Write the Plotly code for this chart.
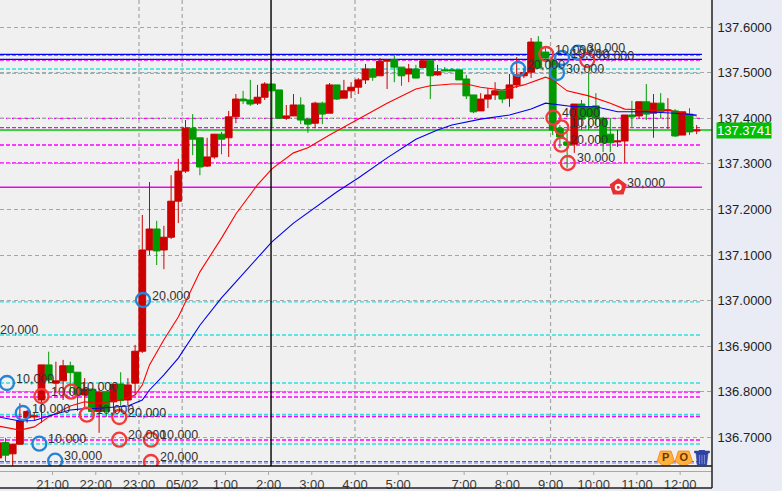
import plotly.graph_objects as go

W, H = 782, 491
PLOT_R, PLOT_B = 712, 466

candle_index = list(range(-20, 78))
opens = [136.655,136.689,136.664,136.685,136.743,136.745,136.782,136.859,136.819,136.824,
 136.857,136.843,136.793,136.806,136.757,136.800,136.778,136.817,136.782,136.819,
 136.889,137.111,137.157,137.111,137.139,137.218,137.284,137.378,137.357,137.295,
 137.315,137.365,137.357,137.403,137.442,137.440,137.433,137.446,137.475,137.462,
 137.400,137.405,137.429,137.398,137.389,137.433,137.411,137.473,137.444,137.460,
 137.468,137.484,137.508,137.493,137.525,137.528,137.512,137.497,137.508,137.511,
 137.526,137.495,137.506,137.506,137.506,137.486,137.451,137.416,137.442,137.451,
 137.460,137.444,137.473,137.493,137.501,137.567,137.545,137.528,137.378,137.348,
 137.343,137.431,137.425,137.427,137.400,137.365,137.348,137.350,137.407,137.405,
 137.436,137.411,137.433,137.416,137.416,137.363,137.409,137.372]
highs = [136.688,136.699,136.685,136.775,136.760,136.754,136.859,136.888,136.866,136.870,
 136.866,136.843,136.830,136.806,136.808,136.800,136.816,136.843,136.830,136.903,
 137.188,137.260,137.175,137.164,137.275,137.311,137.396,137.409,137.357,137.357,
 137.365,137.370,137.416,137.453,137.460,137.484,137.473,137.479,137.475,137.462,
 137.429,137.453,137.446,137.398,137.436,137.436,137.477,137.473,137.484,137.479,
 137.488,137.519,137.510,137.532,137.528,137.539,137.512,137.519,137.517,137.526,
 137.528,137.517,137.512,137.510,137.506,137.495,137.451,137.455,137.466,137.479,
 137.460,137.497,137.534,137.510,137.576,137.580,137.554,137.528,137.385,137.368,
 137.431,137.440,137.499,137.455,137.403,137.400,137.374,137.407,137.438,137.436,
 137.475,137.453,137.455,137.444,137.420,137.414,137.422,137.385]
lows = [136.633,136.647,136.637,136.685,136.732,136.738,136.732,136.819,136.800,136.782,
 136.793,136.758,136.765,136.745,136.710,136.745,136.754,136.768,136.771,136.793,
 136.885,137.100,137.078,137.069,137.135,137.170,137.280,137.319,137.275,137.293,
 137.311,137.321,137.315,137.389,137.431,137.427,137.429,137.440,137.381,137.400,
 137.396,137.405,137.387,137.368,137.378,137.387,137.411,137.440,137.444,137.444,
 137.453,137.475,137.482,137.493,137.464,137.479,137.471,137.479,137.488,137.511,
 137.442,137.493,137.504,137.504,137.484,137.442,137.411,137.416,137.422,137.440,
 137.433,137.425,137.466,137.488,137.488,137.510,137.523,137.363,137.335,137.291,
 137.324,137.374,137.374,137.385,137.326,137.326,137.337,137.302,137.381,137.398,
 137.396,137.357,137.400,137.376,137.359,137.363,137.363,137.365]
closes = [136.688,136.661,136.685,136.736,136.757,136.747,136.859,136.826,136.824,136.857,
 136.842,136.793,136.806,136.757,136.799,136.757,136.816,136.781,136.815,136.889,
 137.111,137.157,137.109,137.139,137.218,137.284,137.378,137.354,137.293,137.315,
 137.365,137.354,137.403,137.442,137.438,137.431,137.446,137.475,137.460,137.400,
 137.405,137.429,137.396,137.387,137.433,137.409,137.473,137.442,137.460,137.468,
 137.484,137.508,137.490,137.525,137.527,137.512,137.493,137.508,137.488,137.526,
 137.493,137.502,137.504,137.504,137.484,137.449,137.414,137.442,137.451,137.460,
 137.442,137.473,137.495,137.500,137.567,137.510,137.532,137.374,137.359,137.341,
 137.431,137.398,137.403,137.400,137.346,137.346,137.350,137.407,137.403,137.436,
 137.409,137.433,137.414,137.418,137.361,137.414,137.370,137.374]

red_ma_index = [-20,-17,-15,-13,-10,-8,-6,-3,-1,0,1,3,5,8,11,13,16,18,21,23,26,30,34,38,40,43,45,47,50,53,56,57,59,62,65,67,70,73,75,77]
red_ma = [136.725,136.716,136.723,136.745,136.769,136.778,136.775,136.782,136.793,136.815,
 136.859,136.914,136.964,137.063,137.137,137.190,137.254,137.289,137.324,137.335,
 137.363,137.398,137.433,137.464,137.471,137.475,137.475,137.468,137.462,137.473,
 137.490,137.484,137.460,137.449,137.433,137.420,137.418,137.418,137.411,137.405]
blue_ma_index = [-20,-17,-15,-13,-10,-8,-6,-2,0,1,3,5,8,11,13,15,18,21,24,27,30,34,38,41,43,47,51,54,56,58,60,63,66,70,74,77]
blue_ma = [136.745,136.736,136.737,136.747,136.760,136.763,136.764,136.769,136.782,136.804,
 136.837,136.874,136.946,137.006,137.041,137.076,137.129,137.170,137.203,137.238,
 137.269,137.313,137.354,137.374,137.385,137.398,137.407,137.420,137.433,137.429,
 137.425,137.425,137.414,137.414,137.411,137.407]

blue_order_x = [-18.8,-16.6,-14.3,-12.1,0.1,52.2,57.6,58.3,60.5]
blue_order_y = [136.8193,136.7535,136.6862,136.6489,137.0013,137.5079,137.4991,137.532,137.5436]
blue_order_text = ["10,000","10,000","10,000","30,000","20,000","20,000","30,000","10,000","30,000"]
red_order_x = [-14,-9.9,-7.7,-3.2,-3.2,1.2,1.2,56.1,61.8,57.1,58.2,58.2,59.1]
red_order_y = [136.7908,136.8002,136.7498,136.7447,136.695,136.695,136.6461,137.5408,137.5276,137.4011,137.38,137.3419,137.3018]
red_order_text = ["10,000","10,000","10,000","20,000","20,000","10,000","20,000","10,000","10,000","40,000","10,000","20,000","30,000"]

blue_solid = [137.5401,137.5292]
magenta_solid = [137.2485]
magenta_dash = [137.5386,137.5276,137.3998,137.3795,137.3412,137.3018,136.7996,136.7886,136.7458,136.6943,136.6467]
cyan_dash = [137.5079,137.4985,136.997,136.9246,136.8193,136.7502,136.6855,136.6438]
last_price = 137.3741

price_ticks = [136.7,136.8,136.9,137.0,137.1,137.2,137.3,137.4,137.5,137.6]
time_ticks = [-12.46,-6.46,-0.46,5.54,11.54,17.54,23.54,29.54,35.54,44.7,50.7,56.7,62.7,68.7,74.7]
time_labels = ["21:00","22:00","23:00","05/02","1:00","2:00","3:00","4:00","5:00","7:00","8:00","9:00","10:00","11:00","12:00"]
grid_times = [-0.46,5.54,29.54,56.7]
crosshair = 17.88

X0, DX = 142.3, 7.2
xmin, xmax = (0 - X0) / DX, (PLOT_R - X0) / DX
line_end = (702 - X0) / DX
TXT = dict(family="Liberation Sans, Arial, sans-serif", size=12.5, color="#333333")

def px(x):
    return x / W
def py(y):
    return 1 - y / PLOT_B
RIGHT = px(PLOT_R)

fig = go.Figure()
shapes = []
# bottom strip
shapes.append(dict(type="rect", xref="paper", yref="paper", x0=0, x1=RIGHT, y0=py(488), y1=py(466),
                   fillcolor="#f0f0f0", line=dict(width=0), layer="below"))
for t in grid_times:
    shapes.append(dict(type="line", xref="x", yref="paper", x0=t, x1=t, y0=0, y1=1,
                       line=dict(color="#a6a6a6", width=1.2, dash="4px,3px"), layer="below"))
def hline(v, color, width, dash=None):
    shapes.append(dict(type="line", xref="x", yref="y", x0=xmin, x1=line_end, y0=v, y1=v,
                       line=dict(color=color, width=width, dash=dash), layer="below"))
for v in cyan_dash:
    hline(v, "#2fe0e0", 1.3, "4px,2px")
for v in magenta_dash:
    hline(v, "#ff00ff", 1.3, "4px,2px")
for v in magenta_solid:
    hline(v, "#f000f0", 1.6)
for v in blue_solid:
    hline(v, "#0000ff", 1.3)
shapes.append(dict(type="line", xref="x", yref="y", x0=xmin, x1=xmax, y0=last_price, y1=last_price,
                   line=dict(color="#00c800", width=1.5), layer="below"))
# axis furniture
shapes.append(dict(type="line", xref="paper", yref="paper", x0=0, x1=RIGHT, y0=py(471.5), y1=py(471.5),
                   line=dict(color="#a8a8a8", width=1)))
for t in time_ticks:
    shapes.append(dict(type="line", xref="x", yref="paper", x0=t, x1=t, y0=py(471.5), y1=py(475),
                       line=dict(color="#a8a8a8", width=1)))
shapes.append(dict(type="line", xref="paper", yref="paper", x0=0, x1=RIGHT, y0=py(466), y1=py(466),
                   line=dict(color="#111111", width=1.5)))
shapes.append(dict(type="line", xref="paper", yref="paper", x0=0, x1=RIGHT, y0=py(488), y1=py(488),
                   line=dict(color="#222222", width=1.5)))
shapes.append(dict(type="line", xref="paper", yref="paper", x0=RIGHT, x1=RIGHT, y0=py(0), y1=py(488),
                   line=dict(color="#222222", width=1.5)))
shapes.append(dict(type="line", xref="x", yref="paper", x0=crosshair, x1=crosshair, y0=0, y1=1,
                   line=dict(color="#000000", width=1.4)))
# trash icon
def path(points):
    return "M" + " L".join(f"{px(a)},{py(b)}" for a, b in points) + " Z"
shapes.append(dict(type="path", xref="paper", yref="paper",
                   path=path([(696, 453), (708, 453), (706.5, 466), (697.5, 466)]),
                   fillcolor="#3347a8", line=dict(color="#26358c", width=0.5)))
shapes.append(dict(type="path", xref="paper", yref="paper",
                   path=path([(694.5, 451), (709.5, 451), (709.5, 453), (694.5, 453)]),
                   fillcolor="#3347a8", line=dict(color="#26358c", width=0.5)))
shapes.append(dict(type="path", xref="paper", yref="paper",
                   path=path([(699, 450), (705, 450), (705, 451), (699, 451)]),
                   fillcolor="#3347a8", line=dict(width=0)))
for sx in (699.5, 702, 704.5):
    shapes.append(dict(type="line", xref="paper", yref="paper", x0=px(sx), x1=px(sx), y0=py(455), y1=py(464),
                       line=dict(color="#8a98dc", width=0.8)))

fig.add_trace(go.Candlestick(
    x=candle_index, open=opens, high=highs, low=lows, close=closes,
    whiskerwidth=0,
    increasing=dict(line=dict(color="#cc0000", width=1), fillcolor="#cc0000"),
    decreasing=dict(line=dict(color="#009900", width=1), fillcolor="#009900"),
    hoverinfo="skip", showlegend=False))
fig.add_trace(go.Scatter(x=red_ma_index, y=red_ma, mode="lines",
                         line=dict(color="#ff0000", width=1.1), showlegend=False, hoverinfo="skip"))
fig.add_trace(go.Scatter(x=blue_ma_index, y=blue_ma, mode="lines",
                         line=dict(color="#0000ee", width=1.1), showlegend=False, hoverinfo="skip"))
fig.add_trace(go.Scatter(x=blue_order_x, y=blue_order_y, mode="markers",
                         marker=dict(symbol="circle-open", size=14, color="#2384d8", line=dict(width=2.3, color="#2384d8")),
                         showlegend=False, hoverinfo="skip"))
fig.add_trace(go.Scatter(x=red_order_x, y=red_order_y, mode="markers",
                         marker=dict(symbol="circle-open", size=14, color="#f23a3a", line=dict(width=2.3, color="#f23a3a")),
                         showlegend=False, hoverinfo="skip"))

house_x, house_y = [66.1], [137.2485]
fig.add_trace(go.Scatter(x=house_x, y=house_y, mode="markers",
                         marker=dict(symbol="pentagon", size=18, color="#e83030"),
                         showlegend=False, hoverinfo="skip"))
fig.add_trace(go.Scatter(x=house_x, y=house_y, mode="markers",
                         marker=dict(symbol="circle-open", size=5, color="#ffffff", line=dict(width=2, color="#ffffff")),
                         showlegend=False, hoverinfo="skip"))
button_x, button_y, button_text = [72.7, 75.2], [136.654, 136.654], ["P", "O"]
fig.add_trace(go.Scatter(x=button_x, y=button_y, mode="markers+text", text=button_text,
                         textposition="middle center",
                         textfont=dict(family="Liberation Sans", size=11, color="#6b3500", weight="bold"),
                         marker=dict(symbol="pentagon", angle=180, size=18, color="#ffb13d", line=dict(width=1, color="#ff8a20")),
                         showlegend=False, hoverinfo="skip"))

ann = []
def label(x, y, text):
    ann.append(dict(x=x, y=y, text=text, xref="x", yref="y", xanchor="left", yanchor="middle",
                    xshift=7, yshift=4.5, showarrow=False, font=TXT))
for x, y, t in zip(blue_order_x, blue_order_y, blue_order_text):
    label(x, y, t)
for x, y, t in zip(red_order_x, red_order_y, red_order_text):
    label(x, y, t)
label(house_x[0], house_y[0], "30,000")
ann.append(dict(x=xmin, y=136.940, text="20,000", xref="x", yref="y", xanchor="left", yanchor="middle",
                xshift=-2, yshift=-2, showarrow=False, font=TXT))
ann.append(dict(x=716 / W, y=last_price, xref="paper", yref="y", xanchor="left", yanchor="middle",
                text=f"{last_price:.4f}", showarrow=False, bgcolor="#00c000", borderpad=0,
                font=dict(family="Liberation Sans, Arial, sans-serif", size=13, color="#ffffff")))

fig.update_layout(
    width=W, height=H, margin=dict(l=0, r=0, t=0, b=H - PLOT_B, pad=0),
    paper_bgcolor="#e9ecf5", plot_bgcolor="#f0f0f0",
    shapes=shapes, annotations=ann, showlegend=False,
    boxmode="overlay", boxgap=0.06, boxgroupgap=0,
    font=dict(family="Liberation Sans, Arial, sans-serif", size=12, color="#222222"),
    xaxis=dict(domain=[0, PLOT_R / W], range=[xmin, xmax], tickmode="array", tickvals=time_ticks,
               ticktext=time_labels, showgrid=False, zeroline=False, showline=False,
               ticks="outside", ticklen=6, tickcolor="rgba(0,0,0,0)", rangeslider=dict(visible=False),
               tickfont=dict(size=13, color="#3a3a3a")),
    yaxis=dict(range=[137.6 - (PLOT_B - 27) / 456, 137.6 + 27 / 456], side="right", anchor="x",
               tickmode="array", tickvals=price_ticks, ticktext=[f"{v:.4f}" for v in price_ticks],
               showgrid=True, gridcolor="#a6a6a6", gridwidth=1.1, griddash="4px,3px",
               zeroline=False, showline=False, ticks="outside", ticklen=2, tickcolor="rgba(0,0,0,0)",
               tickfont=dict(size=13, color="#222222")),
)
fig.write_html("out.html", config=dict(displayModeBar=False),
               post_script="document.body.style.margin='0';document.body.style.overflow='hidden';")
